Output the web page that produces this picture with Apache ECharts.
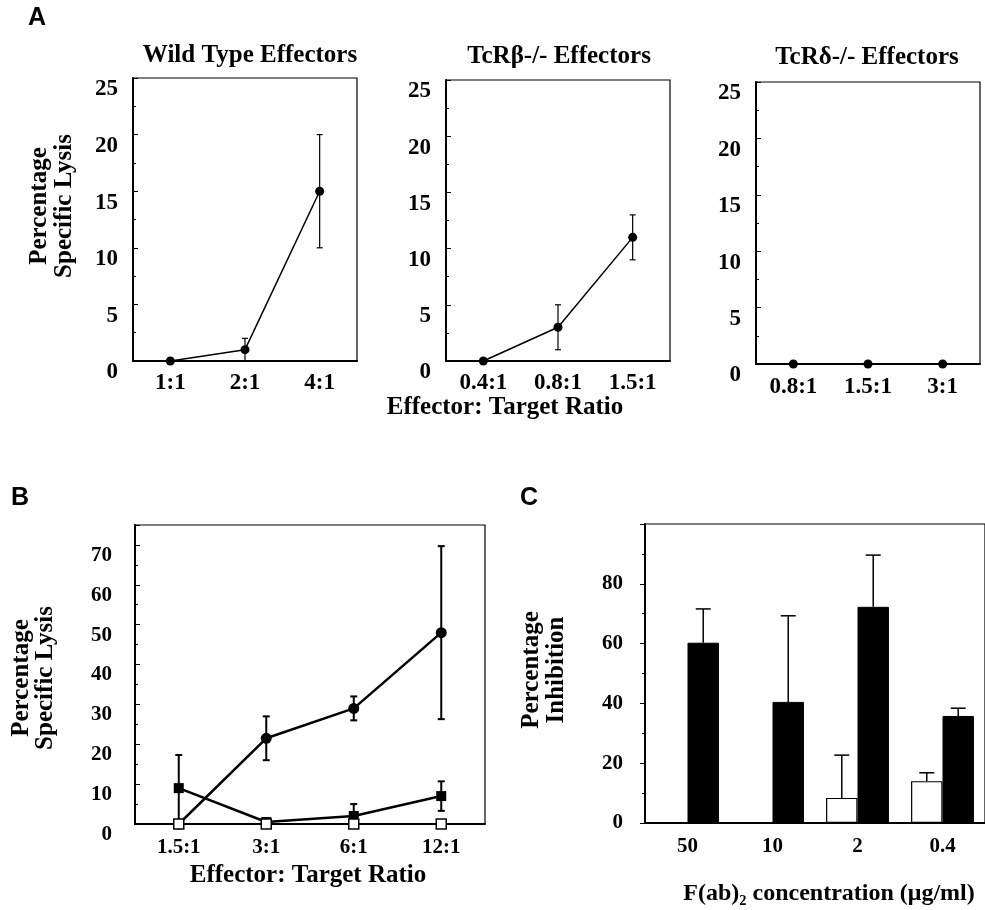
<!DOCTYPE html>
<html>
<head>
<meta charset="utf-8">
<script src="https://cdn.jsdelivr.net/npm/echarts@6/dist/echarts.min.js"></script>
<style>
  html, body { margin: 0; padding: 0; background: #fff; }
  #chart { width: 985px; height: 910px; }
</style>
</head>
<body>
<div id="chart"></div>
<script>
// panel A
const wildCats = ['1:1', '2:1', '4:1'];
const wildVals = [0, 1, 15];
const wildErr = [0, 1, 5];
const betaCats = ['0.4:1', '0.8:1', '1.5:1'];
const betaVals = [0, 3, 11];
const betaErr = [0, 2, 2];
const deltaCats = ['0.8:1', '1.5:1', '3:1'];
const deltaVals = [0, 0, 0];

// panel B
const bCats = ['1.5:1', '3:1', '6:1', '12:1'];
const bCircle = [0, 21.5, 29, 48];
const bCircleErr = [0, 5.5, 3, 21.7];
const bFilledSq = [9, 0.5, 2, 7];
const bFilledSqErr = [8.3, 0, 3, 3.7];
const bOpenSq = [0, 0, 0, 0];

// panel C
const cCats = ['50', '10', '2', '0.4'];
const cWhite = [0, 0, 8.4, 14];
const cWhiteErr = [0, 0, 14.3, 2.8];
const cBlack = [60.3, 40.5, 72.3, 35.8];
const cBlackErr = [11.3, 28.8, 17.3, 2.6];

const SERIF = '"Liberation Serif", "Times New Roman", serif';
const SANS = '"Liberation Sans", Arial, sans-serif';
const BAR_FRAC = 0.37;

function errRows(vals, err, oneSided) {
    return vals.map((v, i) => [i, oneSided ? v : v - err[i], v + err[i], err[i]])
        .filter(r => r[3] > 0);
}

// vertical error bar with caps; shift = -1/0/1 of half a bar width
function errorBar(capW, lw, shift, oneSided) {
    return function (params, api) {
        const i = api.value(0);
        const lo = api.coord([i, api.value(1)]);
        const hi = api.coord([i, api.value(2)]);
        const dx = shift * api.size([1, 0])[0] * BAR_FRAC / 2;
        const x = lo[0] + dx;
        const st = { stroke: '#000', lineWidth: lw };
        const kids = [
            { type: 'line', shape: { x1: x, y1: lo[1], x2: x, y2: hi[1] }, style: st },
            { type: 'line', shape: { x1: x - capW / 2, y1: hi[1], x2: x + capW / 2, y2: hi[1] }, style: st }
        ];
        if (!oneSided) {
            kids.push({ type: 'line', shape: { x1: x - capW / 2, y1: lo[1], x2: x + capW / 2, y2: lo[1] }, style: st });
        }
        return { type: 'group', children: kids };
    };
}

function catAxis(gi, cats, fontSize, margin) {
    return {
        type: 'category', gridIndex: gi, data: cats,
        axisLine: { lineStyle: { color: '#000', width: 2 } },
        axisTick: { alignWithLabel: false, length: 4, lineStyle: { color: '#000' } },
        axisLabel: { color: '#000', fontFamily: SERIF, fontWeight: 'bold', fontSize: fontSize, margin: margin },
        splitLine: { show: false }
    };
}

function valAxis(gi, max, interval, fontSize, margin, vAlign, inside, showMax) {
    return {
        type: 'value', gridIndex: gi, min: 0, max: max, interval: interval,
        axisLine: { show: true, lineStyle: { color: '#000', width: 2 } },
        axisTick: { show: true, inside: inside, length: 5, lineStyle: { color: '#000' } },
        minorTick: { show: true, splitNumber: 2, length: 3, lineStyle: { color: '#000' } },
        axisLabel: {
            color: '#000', fontFamily: SERIF, fontWeight: 'bold', fontSize: fontSize,
            margin: margin, verticalAlign: vAlign,
            formatter: v => (v % interval === 0 && (v < max || showMax)) ? String(v) : ''
        },
        splitLine: { show: false }
    };
}

function gridBox(left, top, width, height) {
    return { left: left, top: top, width: width, height: height, show: true, borderColor: '#000', borderWidth: 1.2, containLabel: false };
}

function lineSeries(gi, vals, symbol, size, lw, fill, z) {
    return {
        type: 'line', xAxisIndex: gi, yAxisIndex: gi, data: vals,
        symbol: symbol, symbolSize: size, showSymbol: true,
        lineStyle: { color: '#000', width: lw },
        itemStyle: { color: fill, borderColor: '#000', borderWidth: fill === '#fff' ? 1.5 : 0 },
        z: z, animation: false
    };
}

function errSeries(gi, rows, capW, lw, shift, oneSided) {
    return {
        type: 'custom', xAxisIndex: gi, yAxisIndex: gi, data: rows,
        renderItem: errorBar(capW, lw, shift, oneSided), z: 1, animation: false
    };
}

function text(x, y, str, font) {
    return {
        type: 'text', x: x, y: y,
        style: { text: str, font: font, fill: '#000', textAlign: 'center', textVerticalAlign: 'middle' }
    };
}

function vText(x, y, str, font, lh) {
    return {
        type: 'text', x: x, y: y, rotation: Math.PI / 2,
        style: { text: str, font: font, fill: '#000', textAlign: 'center', textVerticalAlign: 'middle', lineHeight: lh }
    };
}

const chart = echarts.init(document.getElementById('chart'));

const option = {
    backgroundColor: '#fff',
    animation: false,
    grid: [
        gridBox(133, 78, 224, 283),
        gridBox(446, 80, 224, 281),
        gridBox(756, 82, 224, 282),
        gridBox(135, 525, 350, 299),
        gridBox(645, 524, 350, 299)
    ],
    xAxis: [
        catAxis(0, wildCats, 23, 11),
        catAxis(1, betaCats, 23, 11),
        catAxis(2, deltaCats, 23, 12),
        catAxis(3, bCats, 21, 13),
        Object.assign(catAxis(4, cCats, 21, 13), { axisTick: { length: 5, lineStyle: { color: '#000' } } })
    ],
    yAxis: [
        valAxis(0, 25, 5, 23, 15, 'top', true, true),
        valAxis(1, 25, 5, 23, 15, 'top', true, true),
        valAxis(2, 25, 5, 23, 15, 'top', true, true),
        valAxis(3, 75, 10, 21, 23, 'top', true, false),
        valAxis(4, 100, 20, 21, 22, 'middle', false, false)
    ],
    series: [
        // A
        errSeries(0, errRows(wildVals, wildErr), 6, 1.2, 0, false),
        lineSeries(0, wildVals, 'circle', 9, 1.5, '#000', 3),
        errSeries(1, errRows(betaVals, betaErr), 6, 1.2, 0, false),
        lineSeries(1, betaVals, 'circle', 9, 1.5, '#000', 3),
        lineSeries(2, deltaVals, 'circle', 9, 2, '#000', 3),
        // B
        errSeries(3, errRows(bCircle, bCircleErr), 7, 2, 0, false),
        errSeries(3, errRows(bFilledSq, bFilledSqErr), 7, 2, 0, false),
        lineSeries(3, bCircle, 'circle', 11, 2.5, '#000', 3),
        lineSeries(3, bFilledSq, 'rect', 10, 2.5, '#000', 3),
        lineSeries(3, bOpenSq, 'rect', 10, 2, '#fff', 4),
        // C
        {
            type: 'bar', xAxisIndex: 4, yAxisIndex: 4, data: cWhite, barWidth: (BAR_FRAC * 100) + '%', barGap: '0%',
            itemStyle: { color: '#fff', borderColor: '#000', borderWidth: 1.2 }, z: 2
        },
        {
            type: 'bar', xAxisIndex: 4, yAxisIndex: 4, data: cBlack, barWidth: (BAR_FRAC * 100) + '%', barGap: '0%',
            itemStyle: { color: '#000', borderColor: '#000', borderWidth: 1 }, z: 2
        },
        errSeries(4, errRows(cWhite, cWhiteErr, true), 15, 1.5, -1, true),
        errSeries(4, errRows(cBlack, cBlackErr, true), 15, 1.5, 1, true)
    ],
    graphic: [
        text(37, 18, 'A', 'bold 25px ' + SANS),
        text(20, 498, 'B', 'bold 25px ' + SANS),
        text(529, 498, 'C', 'bold 25px ' + SANS),
        text(250, 56, 'Wild Type Effectors', 'bold 25px ' + SERIF),
        text(559, 57, 'TcRβ-/- Effectors', 'bold 25px ' + SERIF),
        text(867, 58, 'TcRδ-/- Effectors', 'bold 25px ' + SERIF),
        text(505, 408, 'Effector: Target Ratio', 'bold 25px ' + SERIF),
        text(308, 876, 'Effector: Target Ratio', 'bold 25px ' + SERIF),
        text(829, 894, 'F(ab)₂ concentration (μg/ml)', 'bold 24px ' + SERIF),
        vText(52, 206, 'Percentage\nSpecific Lysis', 'bold 25px ' + SERIF, 25),
        vText(34, 678, 'Percentage\nSpecific Lysis', 'bold 25px ' + SERIF, 24),
        vText(544, 670, 'Percentage\nInhibition', 'bold 25px ' + SERIF, 25)
    ]
};

chart.setOption(option);
</script>
</body>
</html>
